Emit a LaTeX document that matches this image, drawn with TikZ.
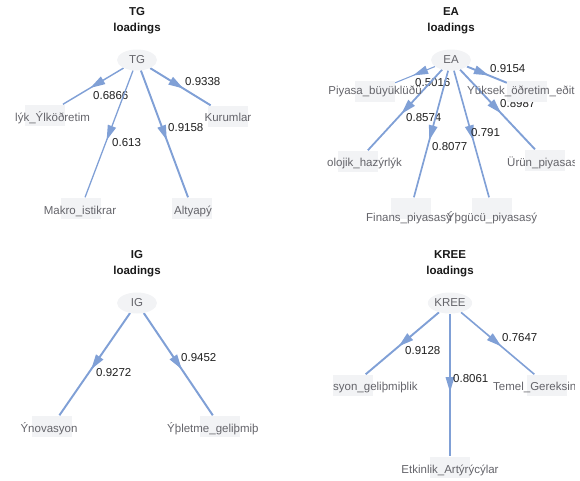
\documentclass[tikz,border=0pt]{standalone}
\usepackage{fontspec}
\setmainfont{Liberation Sans}
\usepackage{xcolor}
\usepackage{tikz}
\usetikzlibrary{shapes.geometric}
\usetikzlibrary{arrows.meta,decorations.markings}
\usetikzlibrary{backgrounds}
\definecolor{edgeblue}{RGB}{128,160,214}
\definecolor{boxgrey}{RGB}{242,243,245}
\definecolor{lblgrey}{RGB}{100,100,106}
\newcommand\plotfont{\fontsize{11.5}{16}\selectfont}
\tikzstyle{latent}=[ellipse,fill=boxgrey,minimum width=40pt,minimum height=21pt,inner sep=0pt,text=lblgrey,font=\plotfont]
\tikzstyle{manifest}=[rectangle,fill=boxgrey,minimum width=40pt,minimum height=21pt,inner sep=0pt]
\tikzstyle{itemtext}=[inner sep=0pt,text height=8.5pt,text depth=2.5pt,text=lblgrey,font=\plotfont]
\tikzstyle{loading}=[draw=edgeblue,postaction={decorate},decoration={markings,mark=at position 0.55 with {\arrow[edgeblue]{Triangle[length=15pt,width=8.5pt]}}}]
\tikzstyle{weight}=[anchor=west,inner sep=0pt,text height=8.5pt,text depth=2.5pt,text=black!88,font=\plotfont]
\tikzset{paneltitle/.style={align=center,inner sep=0pt,font=\plotfont\bfseries,text=black!90}}

\begin{document}
\begin{tikzpicture}[x=1pt,y=-1pt]
  \useasboundingbox (0,0) rectangle (580,480);

  % titles
  \foreach \x/\y/\name in {137/21/TG, 451/21/EA, 137/264/IG, 450/264/KREE}
     \node[paneltitle] (title\name) at (\x,\y) {\name\\loadings};

  % factors
  \foreach \x/\y/\name in {137/60/TG, 451/60/EA, 137/303/IG, 450/303/KREE}
     \node[latent] (\name) at (\x,\y) {\name};

  % indicator boxes
  \foreach \x/\y/\name in {45/115/saglik, 228/116/kurum, 81/208/makro, 192/208/altyapi,
                           375/91/piyasa, 527/91/yuksek, 358/161/tekno, 545/160/urun,
                           411/208/finans, 492/208/isgucu,
                           52/426/inov, 220/426/isletme,
                           353/385/inovgel, 450/467/etkin, 547/385/temel}
     \node[manifest] (\name) at (\x,\y) {};

  % indicator labels
  \begin{scope}
    \clip (15,0) rectangle (259,480) (327,0) rectangle (574,480);
    \foreach \x/\y/\anc/\name/\txt in {15/118/west/saglik/lýk\_Ýlköðretim, 228/118/center/kurum/Kurumlar,
                                       80/211/center/makro/Makro\_istikrar, 193/211/center/altyapi/Altyapý,
                                       375/91/center/piyasa/Piyasa\_büyüklüðü, 467/91/west/yuksek/Yüksek\_öðretim\_eðit,
                                       327/163/west/tekno/olojik\_hazýrlýk, 507/163/west/urun/Ürün\_piyasas,
                                       409/218/center/finans/Finans\_piyasasý, 492/218/center/isgucu/Ýþgücü\_piyasasý,
                                       49/429/center/inov/Ýnovasyon, 167/429/west/isletme/Ýþletme\_geliþmiþ,
                                       333/387/west/inovgel/syon\_geliþmiþlik, 450/470/center/etkin/Etkinlik\_Artýrýcýlar,
                                       493/387/west/temel/Temel\_Gereksin}
       \node[itemtext,anchor=\anc] (t\name) at (\x,\y) {\txt};
  \end{scope}

  % loadings
  \begin{pgfonlayer}{background}
  \foreach \source/\dest/\w/\lx/\ly in {TG/saglik/0.6866/93/96, TG/kurum/0.9338/185/82,
                                        TG/makro/0.613/112/143, TG/altyapi/0.9158/168/128,
                                        EA/piyasa/0.5016/415/83, EA/yuksek/0.9154/490/69,
                                        EA/urun/0.8987/500/104, EA/tekno/0.8574/406/118,
                                        EA/finans/0.8077/432/147, EA/isgucu/0.791/471/133,
                                        IG/inov/0.9272/96/373, IG/isletme/0.9452/181/358,
                                        KREE/inovgel/0.9128/405/351, KREE/etkin/0.8061/453/379,
                                        KREE/temel/0.7647/502/338}
  {
     \path[loading,line width={\w*2.1pt}] (\source) -- (\dest);
     \node[weight] (w\dest) at (\lx,\ly) {\w};
  }
  \end{pgfonlayer}

\end{tikzpicture}
\end{document}
